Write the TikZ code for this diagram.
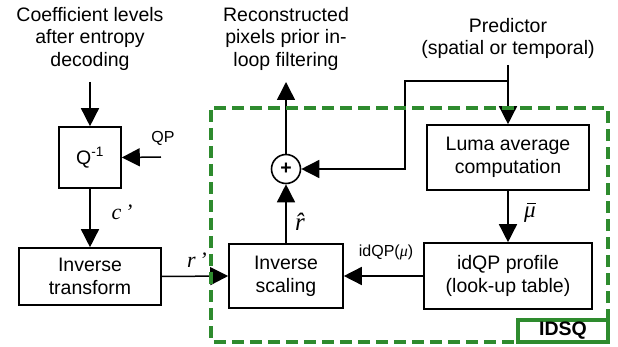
\documentclass[tikz,border=0pt]{standalone}
\usepackage{fontspec}
\setmainfont{Liberation Sans}
\newfontfamily\timesfont{Liberation Serif}
\usetikzlibrary{arrows.meta}
\definecolor{idsqgreen}{RGB}{46,139,46}

\begin{document}
\begin{tikzpicture}[x=1pt,y=-1pt,
    blk/.style={draw,line width=1.6pt,align=center,inner sep=0pt,font=\fontsize{19.5}{23}\selectfont},
    lbl/.style={align=center,inner sep=0pt,font=\fontsize{19.5}{22.5}\selectfont},
    arr/.style={-{Triangle[length=18pt,width=18pt]},line width=1.5pt}]
    \useasboundingbox (0,0) rectangle (618,347);

    % texts outside
    \node[lbl,anchor=north](coef)at(90,7){Coefficient levels\\after entropy\\decoding};
    \node[lbl,anchor=north](recon)at(286,7){Reconstructed\\pixels prior in-\\loop filtering};
    \node[lbl,anchor=north](pred)at(508,18){Predictor\\(spatial or temporal)};

    % blocks
    \node[blk,minimum width=62pt,minimum height=61pt](q)at(90,157.5){Q\textsuperscript{-1}};
    \node[blk,minimum width=142pt,minimum height=57pt](itr)at(90,276.5){Inverse\\transform};
    \node[blk,minimum width=114pt,minimum height=64pt](isc)at(286,276){Inverse\\scaling};
    \node[blk,minimum width=162pt,minimum height=65pt](luma)at(508,157.5){Luma average\\computation};
    \node[blk,minimum width=168pt,minimum height=66pt](lut)at(508,276){idQP profile\\(look-up table)};
    \node[draw,circle,line width=1.6pt,minimum size=29pt,inner sep=0pt,font=\fontsize{19.5}{22}\bfseries](sum)at(286,169){+};

    \coordinate(coefout)at(90,82);
    \coordinate(qp)at(161,157);
    \coordinate(recin)at(286,82);
    \coordinate(predout)at(508,65);
    \coordinate(split)at(508,81);
    \coordinate(turn)at(405,81);

    % connectors
    \draw[arr](coefout)--(q.north);
    \draw[arr](qp)--(q.east);
    \draw[arr](q.south)--(itr.north);
    \draw[arr](itr.east)--(isc.west);
    \draw[arr](isc.north)--(sum.south);
    \draw[arr](sum.north)--(recin);
    \draw[arr](predout)--(luma.north);
    \draw[arr](split)--(turn)|-(sum.east);
    \draw[arr](luma.south)--(lut.north);
    \draw[arr](lut.west)--(isc.east);

    % labels
    \node[font=\fontsize{16}{18}\selectfont](qplbl)at(163,138){QP};
    \node[font=\fontsize{22}{24}\selectfont\timesfont\itshape](clbl)at(122,212){c\,’};
    \node[font=\fontsize{22}{24}\selectfont\timesfont\itshape](rlbl)at(197,260){r\,’};
    \node[font=\fontsize{25}{27}\selectfont\timesfont\itshape,inner sep=0pt](rhat)at(300,222){\^{r}};
    \node[font=\fontsize{23}{25}\selectfont\timesfont\itshape,inner sep=0pt](mubar)at(530,213){\rlap{\kern3pt\raisebox{13.5pt}{\rule{9pt}{1.3pt}}}μ};
    \node[font=\fontsize{16}{18}\selectfont](idqp)at(386,252){idQP({\timesfont\itshape μ})};

    % IDSQ region
    \draw[idsqgreen,line width=3.5pt,dash pattern=on 12pt off 6pt,rounded corners=2pt](211,108)rectangle(608,342);
    \node[draw=idsqgreen,line width=3.5pt,minimum width=90pt,minimum height=22pt,inner sep=0pt,font=\fontsize{19.5}{22}\selectfont\bfseries](idsq)at(563,331){IDSQ};
\end{tikzpicture}
\end{document}
